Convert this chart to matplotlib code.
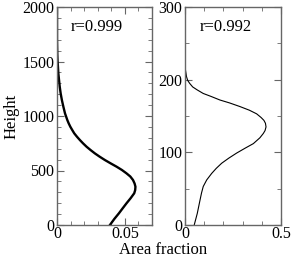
import matplotlib
matplotlib.use('Agg')
import matplotlib.pyplot as plt
from matplotlib.ticker import MultipleLocator

plt.rcParams['font.family'] = ['Liberation Serif', 'DejaVu Serif']

# left panel: area fraction vs height
h_left = [0, 55, 107, 150, 199, 245, 291, 320, 351, 380, 413, 445, 474, 505, 535,
          565, 596, 627, 657, 688, 718, 749, 779, 810, 841, 872, 902, 933, 963,
          1024, 1085, 1146, 1207, 1270, 1330, 1390, 1452, 1510, 1574, 1640, 1700, 2000]
f_left = [0.039, 0.0422, 0.0456, 0.0482, 0.0512, 0.0542, 0.0569, 0.0576, 0.0578,
          0.0572, 0.056, 0.054, 0.0512, 0.0478, 0.0439, 0.0396, 0.0353, 0.0314,
          0.0279, 0.0247, 0.0218, 0.0192, 0.0169, 0.0147, 0.0127, 0.0112, 0.0098,
          0.0086, 0.0076, 0.0059, 0.0047, 0.0036, 0.0027, 0.002, 0.0015, 0.001,
          0.0007, 0.0004, 0.0002, 0.0001, 0.0, 0.0]

# right panel
h_right = [0, 8, 16, 25, 34, 44, 53, 62, 71, 78, 85, 92, 99, 106, 112, 120, 126,
           130, 135, 140, 144, 148, 153, 158, 163, 168, 172, 177, 181, 186, 190,
           195, 199, 204, 209, 214, 218, 300]
f_right = [0.048, 0.056, 0.064, 0.071, 0.078, 0.086, 0.095, 0.113, 0.139, 0.163,
           0.191, 0.228, 0.269, 0.315, 0.356, 0.39, 0.408, 0.417, 0.422, 0.419,
           0.411, 0.396, 0.373, 0.335, 0.286, 0.232, 0.182, 0.135, 0.095, 0.063,
           0.040, 0.024, 0.014, 0.008, 0.005, 0.002, 0.0, 0.0]

fig = plt.figure(figsize=(2.91, 2.57), dpi=100)
ax1 = fig.add_axes([57/291, 32/257, 95/291, 218/257])
ax2 = fig.add_axes([185/291, 32/257, 96/291, 218/257])

def zero_fmt(v, p):
    return '0' if v == 0 else '%g' % v

def style(ax):
    for s in ax.spines.values():
        s.set_color('#666666')
        s.set_linewidth(1.0)
    ax.tick_params(which='both', direction='in', top=True, right=True,
                   colors='#666666', labelcolor='black', labelsize=11.5, pad=2)
    ax.tick_params(axis='x', pad=0.5)
    ax.tick_params(which='major', length=5)
    ax.tick_params(which='minor', length=3)
    ax.xaxis.set_major_formatter(plt.FuncFormatter(zero_fmt))

ax1.plot(f_left, h_left, color='black', linewidth=1.7)
ax1.set_xlim(0, 0.07)
ax1.set_ylim(0, 2000)
ax1.xaxis.set_major_locator(MultipleLocator(0.05))
ax1.xaxis.set_minor_locator(MultipleLocator(0.01))
ax1.yaxis.set_major_locator(MultipleLocator(500))
ax1.yaxis.set_minor_locator(MultipleLocator(100))
style(ax1)
ax1.set_ylabel('Height', fontsize=12, labelpad=2)
ax1.text(0.147, 0.89, 'r=0.999', transform=ax1.transAxes, fontsize=12)

ax2.plot(f_right, h_right, color='black', linewidth=0.8)
ax2.set_xlim(0, 0.5)
ax2.set_ylim(0, 300)
ax2.xaxis.set_major_locator(MultipleLocator(0.5))
ax2.xaxis.set_minor_locator(MultipleLocator(0.1))
ax2.yaxis.set_major_locator(MultipleLocator(100))
ax2.yaxis.set_minor_locator(MultipleLocator(50))
style(ax2)
ax2.text(0.156, 0.89, 'r=0.992', transform=ax2.transAxes, fontsize=12)

fig.text(163/291, 3/257, 'Area fraction', ha='center', va='baseline', fontsize=12)

fig.savefig('out.png', dpi=100)
